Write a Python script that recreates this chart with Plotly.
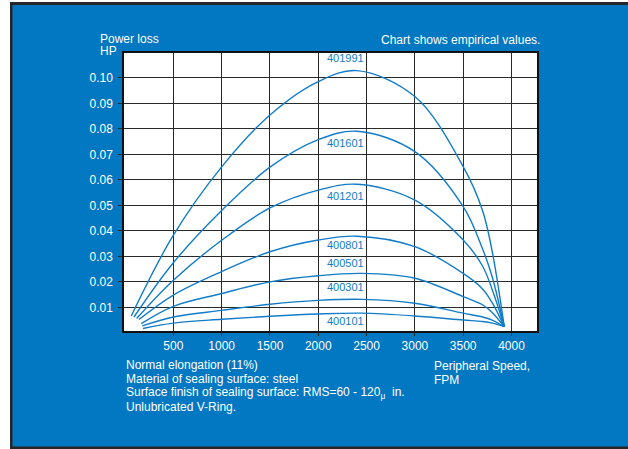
import plotly.graph_objects as go

# ---- data ----
series_names = ["401991", "401601", "401201", "400801", "400501", "400301", "400101"]

x_401991 = [64, 500, 1000, 1500, 2000, 2400, 3000, 3500, 3700, 3800, 3925]
y_401991 = [0.0066, 0.0383, 0.0651, 0.0855, 0.0986, 0.1029, 0.0927, 0.0652, 0.0480, 0.0320, 0.0024]

x_401601 = [92, 500, 1000, 1500, 2000, 2400, 3000, 3500, 3700, 3800, 3925]
y_401601 = [0.0062, 0.0275, 0.0480, 0.0650, 0.0758, 0.0791, 0.0711, 0.0495, 0.0330, 0.0220, 0.0024]

x_401201 = [120, 500, 1000, 1500, 2000, 2400, 3000, 3500, 3700, 3800, 3925]
y_401201 = [0.0056, 0.0206, 0.0363, 0.0490, 0.0560, 0.0583, 0.0521, 0.0364, 0.0262, 0.0170, 0.0024]

x_400801 = [144, 500, 1000, 1500, 2000, 2400, 3000, 3500, 3700, 3800, 3925]
y_400801 = [0.0052, 0.0148, 0.0240, 0.0318, 0.0364, 0.0379, 0.0338, 0.0233, 0.0172, 0.0118, 0.0024]

x_400501 = [168, 500, 1000, 1500, 2000, 2450, 3000, 3500, 3700, 3800, 3925]
y_400501 = [0.0036, 0.0104, 0.0154, 0.0200, 0.0224, 0.0233, 0.0214, 0.0142, 0.0110, 0.0080, 0.0024]

x_400301 = [178, 500, 1000, 1500, 2000, 2450, 3000, 3500, 3700, 3800, 3925]
y_400301 = [0.0027, 0.0062, 0.0088, 0.0112, 0.0127, 0.0131, 0.0116, 0.0077, 0.0062, 0.0050, 0.0024]

x_400101 = [185, 500, 1000, 1500, 2000, 2450, 3000, 3500, 3700, 3800, 3925]
y_400101 = [0.0017, 0.0038, 0.0053, 0.0065, 0.0074, 0.0077, 0.0066, 0.0050, 0.0044, 0.0038, 0.0024]

x_ticks = [500, 1000, 1500, 2000, 2500, 3000, 3500, 4000]
x_tick_labels = ["500", "1000", "1500", "2000", "2500", "3000", "3500", "4000"]
y_ticks = [0.01, 0.02, 0.03, 0.04, 0.05, 0.06, 0.07, 0.08, 0.09, 0.10]
y_tick_labels = ["0.01", "0.02", "0.03", "0.04", "0.05", "0.06", "0.07", "0.08", "0.09", "0.10"]

notes = [
    "Normal elongation (11%)",
    "Material of sealing surface: steel",
    "Surface finish of sealing surface: RMS=60 - 120<sub>μ</sub>  in.",
    "Unlubricated V-Ring.",
]

# ---- styling / layout ----
BLUE = "#0277c2"
LINE = "#127cc8"
GRID = "#2a2a2a"
FONT = "Liberation Sans, Arial, sans-serif"

W, H = 628, 449
ML, MR, MT, MB = 124, 91, 53, 118
PW, PH = W - ML - MR, H - MT - MB


def px2paper(px, py):
    return (px - ML) / PW, (H - MB - py) / PH


fig = go.Figure()

all_x = [x_401991, x_401601, x_401201, x_400801, x_400501, x_400301, x_400101]
all_y = [y_401991, y_401601, y_401201, y_400801, y_400501, y_400301, y_400101]
for name, xs, ys in zip(series_names, all_x, all_y):
    fig.add_trace(go.Scatter(
        x=xs, y=ys, mode="lines", name=name,
        line=dict(color=LINE, width=1.4, shape="spline", smoothing=1.0),
        hoverinfo="skip", showlegend=False,
    ))

annotations = []
label_y = [0.1077, 0.0746, 0.0537, 0.0345, 0.0275, 0.0179, 0.0048]
for name, ly in zip(series_names, label_y):
    annotations.append(dict(
        x=2490, y=ly, xref="x", yref="y", text=name, showarrow=False,
        xanchor="right", yanchor="middle",
        font=dict(family=FONT, size=11, color=LINE),
    ))

white = dict(family=FONT, size=12, color="white")


def txt(text, px, py, xanchor="left"):
    xp, yp = px2paper(px, py)
    return dict(x=xp, y=yp, xref="paper", yref="paper", text=text,
                showarrow=False, xanchor=xanchor, yanchor="middle",
                font=white, borderpad=0)


annotations.append(txt("Power loss", 99, 38.5))
annotations.append(txt("HP", 99, 51))
annotations.append(txt("Chart shows empirical values.", 541, 40, "right"))
for i, line in enumerate(notes):
    annotations.append(txt(line, 125, 364.5 + i * 14.3))
annotations.append(txt("Peripheral Speed,", 433, 366))
annotations.append(txt("FPM", 433, 380))

# frame decoration (outside plot area)
shapes = []


def rect(px0, py0, px1, py1, color):
    x0, y1 = px2paper(px0, py0)
    x1, y0 = px2paper(px1, py1)
    shapes.append(dict(type="rect", xref="paper", yref="paper",
                       x0=x0, x1=x1, y0=y0, y1=y1,
                       fillcolor=color, line=dict(width=0), layer="above"))


rect(-5, -5, 10, H + 5, "white")
rect(-5, -5, W + 5, 2, "white")
rect(10, 2, 12.5, H + 5, "#262626")
rect(10, 2, W + 5, 5, "#262626")
rect(10, 446.5, W + 5, H + 5, "#262626")

fig.update_layout(
    width=W, height=H,
    margin=dict(l=ML, r=MR, t=MT, b=MB, pad=0),
    paper_bgcolor=BLUE, plot_bgcolor="white",
    font=dict(family=FONT, size=12, color="white"),
    annotations=annotations, shapes=shapes,
    showlegend=False,
)
fig.update_xaxes(
    range=[-11, 4264], tickmode="array", tickvals=x_ticks, ticktext=x_tick_labels,
    showgrid=True, gridcolor=GRID, gridwidth=1,
    showline=True, linecolor="#111", linewidth=1.5, mirror=True,
    ticks="outside", ticklen=3, tickcolor=GRID, zeroline=False,
    tickfont=dict(family=FONT, size=12, color="white"),
)
fig.update_yaxes(
    range=[0.0007, 0.1098], tickmode="array", tickvals=y_ticks, ticktext=y_tick_labels,
    showgrid=True, gridcolor=GRID, gridwidth=1,
    showline=True, linecolor="#111", linewidth=1.5, mirror=True,
    ticks="outside", ticklen=4, tickcolor=GRID, zeroline=False,
    ticklabelstandoff=3,
    tickfont=dict(family=FONT, size=12, color="white"),
)

fig.write_html(
    "out.html",
    config={"displayModeBar": False},
    post_script="document.body.style.margin='0';document.body.style.overflow='hidden';",
)
